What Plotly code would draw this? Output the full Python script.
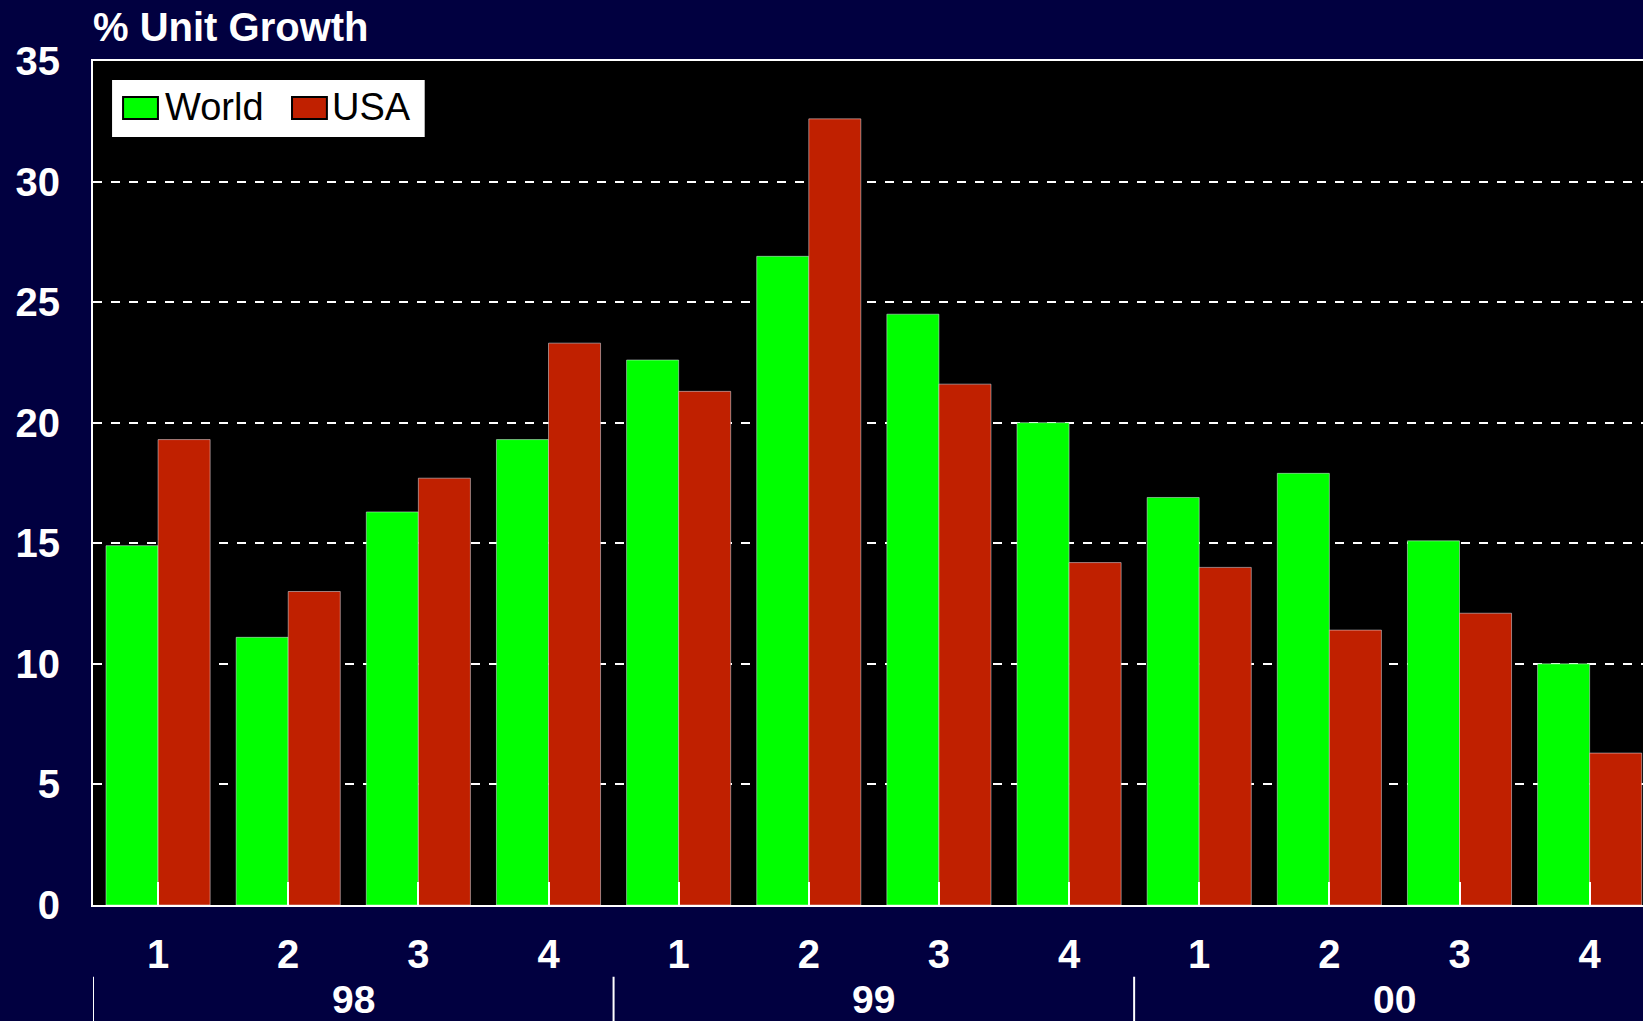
"""Quarterly % unit growth, World vs USA, 1998-2000."""

import plotly.graph_objects as go

years = ["98", "99", "00"]
quarters = ["1", "2", "3", "4"]
world = [14.9, 11.1, 16.3, 19.3, 22.6, 26.9, 24.5, 20.0, 16.9, 17.9, 15.1, 10.0]
usa = [19.3, 13.0, 17.7, 23.3, 21.3, 32.6, 21.6, 14.2, 14.0, 11.4, 12.1, 6.3]

colors = {"World": "#00FF00", "USA": "#C02000"}
bg = "#010040"
font_family = "Liberation Sans, Arial, sans-serif"

# one position per quarter, labelled with the quarter number
x_pos = list(range(len(years) * len(quarters)))
x_text = quarters * len(years)

fig = go.Figure()
fig.add_trace(go.Bar(x=x_pos, y=world, name="World", marker={"color": colors["World"]}))
fig.add_trace(go.Bar(x=x_pos, y=usa, name="USA", marker={"color": colors["USA"]}))

# year labels under the quarters, with dividers between the years
n_q = len(quarters)
for i, yr in enumerate(years):
    fig.add_annotation(
        x=i * n_q + (n_q - 1) / 2, xref="x", y=-0.112, yref="paper",
        text=f"<b>{yr}</b>", showarrow=False, yanchor="middle",
        font={"size": 39, "color": "white", "family": font_family},
    )
    fig.add_shape(
        type="line", xref="x", yref="paper",
        x0=i * n_q - 0.5, x1=i * n_q - 0.5, y0=-0.085, y1=-0.14,
        line={"color": "white", "width": 2},
    )

# legend box drawn by hand so the swatches can be as large as in the slide
fig.add_shape(type="rect", xref="paper", yref="paper", x0=0.0123, x1=0.214, y0=0.910, y1=0.9775,
              fillcolor="white", line={"width": 0}, layer="above")
legend_items = [("World", 0.0194, 0.0452), ("USA", 0.1284, 0.1529)]
for name, sx, tx in legend_items:
    fig.add_shape(type="rect", xref="paper", yref="paper", x0=sx, x1=sx + 0.0225, y0=0.9314, y1=0.9574,
                  fillcolor=colors[name], line={"color": "black", "width": 2}, layer="above")
    fig.add_annotation(x=tx, y=0.945, xref="paper", yref="paper", text=name, showarrow=False,
                       xanchor="left", yanchor="middle",
                       font={"size": 38, "color": "black", "family": font_family})

fig.update_layout(
    width=1643,
    height=1021,
    margin={"l": 93, "r": 0, "t": 61, "b": 116},
    paper_bgcolor=bg,
    plot_bgcolor="black",
    barmode="group",
    bargap=0.2,
    bargroupgap=0,
    title={
        "text": "<b>% Unit Growth</b>",
        "x": 0, "xref": "paper", "xanchor": "left",
        "y": 0.974, "yref": "container", "yanchor": "middle",
        "font": {"size": 40, "color": "white", "family": font_family},
    },
    showlegend=False,
)

fig.update_xaxes(
    range=[-0.5, 11.41],
    tickvals=x_pos,
    ticktext=[f"<b>{t}</b>" for t in x_text],
    ticks="inside",
    ticklen=23,
    tickwidth=2,
    tickcolor="white",
    ticklabelstandoff=13,
    tickfont={"size": 40, "color": "white", "family": font_family},
    showline=True,
    linecolor="white",
    linewidth=2,
    mirror=True,
    showgrid=False,
    zeroline=False,
)
fig.update_yaxes(
    range=[0, 35],
    dtick=5,
    ticks="",
    tickprefix="<b>",
    ticksuffix="</b>",
    ticklabelstandoff=23,
    tickfont={"size": 40, "color": "white", "family": font_family},
    showline=True,
    linecolor="white",
    linewidth=2,
    showgrid=True,
    gridcolor="white",
    gridwidth=2,
    griddash="dash",
    zeroline=False,
)

# drop the page's default body margin so the figure fills the window
fig.write_html(
    "out.html",
    config={"displayModeBar": False},
    post_script="document.body.style.margin='0';",
)
